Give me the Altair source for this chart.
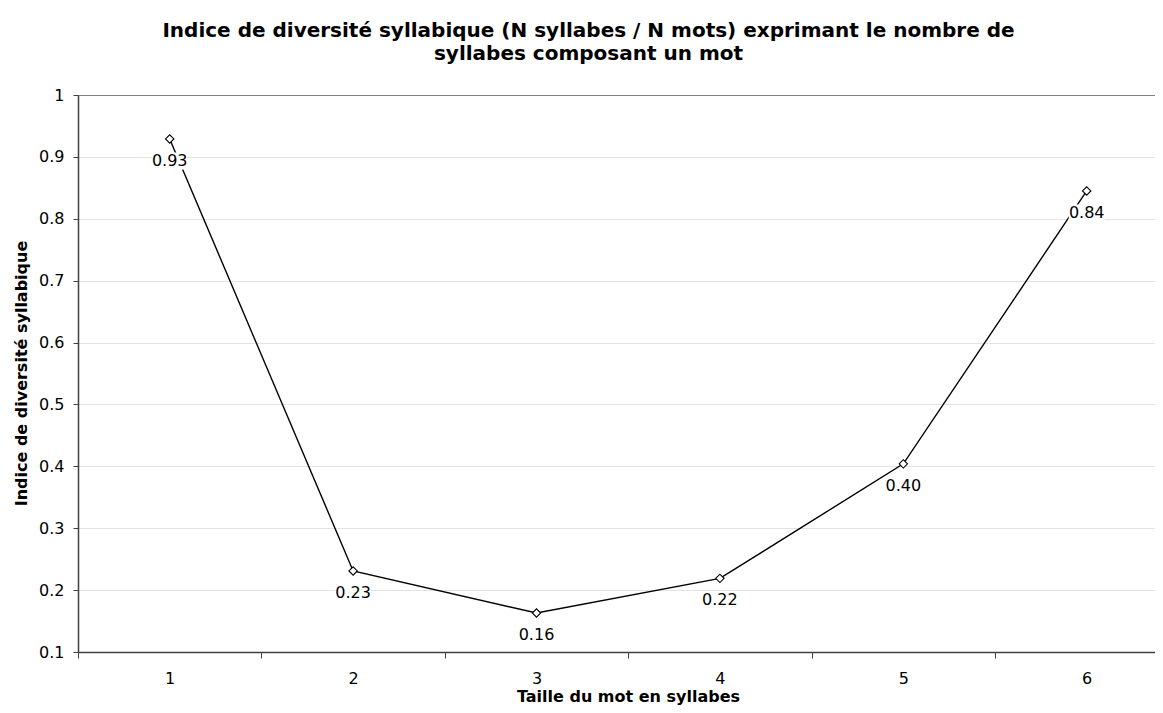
import altair as alt
import pandas as pd

# Data
tailles = [1, 2, 3, 4, 5, 6]
indices = [0.929, 0.231, 0.163, 0.219, 0.404, 0.845]
etiquettes = ["0.93", "0.23", "0.16", "0.22", "0.40", "0.84"]

y_ticks = [0.1, 0.2, 0.3, 0.4, 0.5, 0.6, 0.7, 0.8, 0.9, 1.0]
x_axis_values = [0.5, 1, 1.5, 2, 2.5, 3, 3.5, 4, 4.5, 5, 5.5, 6]

df = pd.DataFrame({"taille": tailles, "indice": indices, "label": etiquettes})

FONT = "DejaVu Sans"
PLOT_W = 1077
X_MAX = 0.5 + PLOT_W / 183.4  # the reference plot is cropped on the right

base = alt.Chart(df).encode(
    x=alt.X(
        "taille:Q",
        scale=alt.Scale(domain=[0.5, X_MAX], nice=False, zero=False),
        axis=alt.Axis(
            title="Taille du mot en syllabes",
            values=x_axis_values,
            labelExpr="datum.value % 1 === 0 ? format(datum.value, 'd') : ''",
            tickOpacity={"condition": {"test": "datum.value % 1 === 0", "value": 0}, "value": 1},
            grid=False,
            tickSize=6,
            labelPadding=12,
            labelFontSize=16,
            labelFont=FONT,
            labelColor="black",
            titleFontSize=16,
            titleFont=FONT,
            titleFontWeight="bold",
            titleColor="black",
            titleX=550,
            titleY=49,
            titleBaseline="alphabetic",
            domainColor="#404040",
            tickColor="#404040",
            domainWidth=1.5,
        ),
    ),
    y=alt.Y(
        "indice:Q",
        scale=alt.Scale(domain=[0.1, 1.0], nice=False, zero=False),
        axis=alt.Axis(
            title="Indice de diversité syllabique",
            values=y_ticks,
            format="~g",
            grid=True,
            gridColor={"condition": {"test": "datum.value === 1", "value": "#808080"}, "value": "#e3e3e3"},
            gridWidth=1,
            tickSize=5,
            labelPadding=9,
            labelFontSize=16,
            labelFont=FONT,
            labelColor="black",
            titleFontSize=16,
            titleFont=FONT,
            titleFontWeight="bold",
            titleColor="black",
            titleX=-57,
            titleY=278,
            titleBaseline="middle",
            domainColor="#404040",
            tickColor="#404040",
            domainWidth=1.5,
        ),
    ),
)

line = base.mark_line(color="black", strokeWidth=1.4)
bg = base.mark_rect(color="white", width=36, height=17, yOffset=22)
txt = base.mark_text(dy=22, fontSize=16, font=FONT, color="black", baseline="middle").encode(text="label:N")
pts = base.mark_point(shape="diamond", filled=True, fill="white", stroke="black",
                      strokeWidth=1.1, size=70, opacity=1)

chart = alt.layer(line, bg, txt, pts).properties(
    width=PLOT_W,
    height=557,
    title=alt.TitleParams(
        text=["Indice de diversité syllabique (N syllabes / N mots) exprimant le nombre de",
              "syllabes composant un mot"],
        font=FONT,
        fontSize=20,
        fontWeight="bold",
        color="black",
        lineHeight=23,
        anchor="middle",
        frame="group",
        dx=-28,
        offset=23,
    ),
    autosize=alt.AutoSizeParams(type="none"),
    padding={"left": 70, "top": 87, "right": 0, "bottom": 53},
).configure_view(stroke=None).configure(background="white")

chart.save("out.html", embed_options={"renderer": "svg", "actions": False})
